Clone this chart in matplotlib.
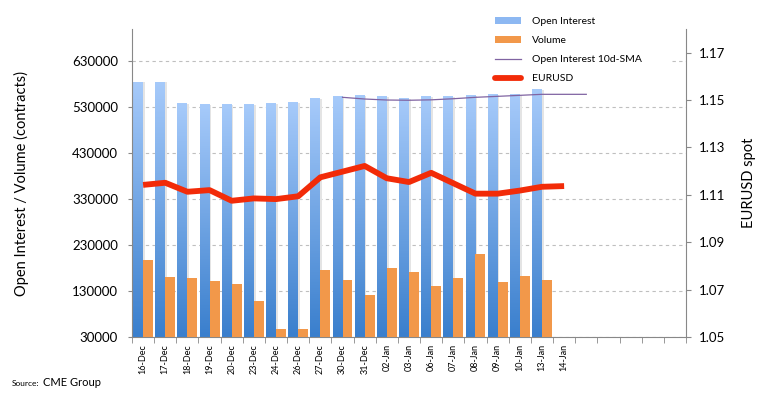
import numpy as np
import matplotlib
matplotlib.use('Agg')
import matplotlib.pyplot as plt
from matplotlib.colors import LinearSegmentedColormap
from matplotlib.patches import Patch, Rectangle
from matplotlib.lines import Line2D

plt.rcParams['font.family'] = ['Lato', 'DejaVu Sans']

# CME data
dates = ['16-Dec', '17-Dec', '18-Dec', '19-Dec', '20-Dec', '23-Dec', '24-Dec', '26-Dec',
         '27-Dec', '30-Dec', '31-Dec', '02-Jan', '03-Jan', '06-Jan', '07-Jan', '08-Jan',
         '09-Jan', '10-Jan', '13-Jan', '14-Jan', '', '', '', '', '']

openInterest = [585300, 585300, 539000, 536800, 536800, 536800, 539000, 541100, 549800,
                554200, 556400, 554200, 549800, 554200, 554200, 556400, 558500, 558500, 569400]

volume = [197500, 160500, 158300, 151800, 145300, 108300, 47400, 47400, 175700, 154000,
          121400, 180100, 171400, 140900, 158300, 210500, 149600, 162700, 154000]

eurusd = [1.1142, 1.1151, 1.1113, 1.1120, 1.1075, 1.1085, 1.1082, 1.1094, 1.1174, 1.1198,
          1.1222, 1.1170, 1.1154, 1.1193, 1.1149, 1.1105, 1.1105, 1.1118, 1.1134, 1.1137]

# 10d SMA starts at 30-Dec
smaStart = 9
oiSma = [551400, 547700, 545500, 545000, 545900, 548300, 551400, 553500, 555700,
         557900, 557900, 557900]

leftTicks = [30000, 130000, 230000, 330000, 430000, 530000, 630000]
rightTicks = [1.05, 1.07, 1.09, 1.11, 1.13, 1.15, 1.17]

gray = '#888888'
orange = '#F2984A'
red = '#F22B08'
purple = '#8064A2'
blueMap = LinearSegmentedColormap.from_list('oi', ['#3A7FCD', '#A6CAFA'])

fig = plt.figure(figsize=(7.67, 3.97), dpi=100)
ax = fig.add_axes([132/767, 1-337/397, 554/767, 308/397])
ax2 = ax.twinx()

x = np.arange(len(dates))
barW = 0.45
yBottom = 30000

# open interest bars with vertical gradient + light shadow
for i, oi in enumerate(openInterest):
	ax.bar(i - barW/2 + 0.08, oi - yBottom - 1500, barW, bottom=yBottom, color='#E4E4E4', zorder=1.5)
	bar = ax.bar(i - barW/2, oi - yBottom, barW, bottom=yBottom, color='#7EAEEA', zorder=2)[0]
	img = ax.imshow(np.linspace(0, 1, 100).reshape(-1, 1), cmap=blueMap, origin='lower',
	                extent=(i - barW, i, yBottom, oi), aspect='auto', zorder=2.1)
	img.set_clip_path(bar)

vx = np.arange(len(volume))
ax.bar(vx + barW/2, np.array(volume) - yBottom, barW, bottom=yBottom, color=orange, zorder=3)

ax.set_xlim(-0.5, len(dates) - 0.5)
ax.set_ylim(30000, 700000)
ax.set_yticks(leftTicks)
ax.set_yticklabels([str(t) for t in leftTicks])
ax.set_xticks(x)
ax.set_xticklabels(dates, rotation=90, fontsize=6.5)
ax.set_xticks(np.arange(len(dates) + 1) - 0.5, minor=True)
ax.tick_params(axis='x', which='major', length=0, pad=5)
ax.tick_params(axis='x', which='minor', length=4, color=gray, direction='out')
ax.tick_params(axis='y', length=3, color=gray, labelsize=9.5, pad=7)

ax.yaxis.grid(True, color='#BFBFBF', linestyle=(0, (3, 3)), linewidth=0.8)
ax.set_axisbelow(True)

for s in ['top', 'right']:
	ax.spines[s].set_visible(False)
ax.spines['left'].set_color(gray)
ax.spines['bottom'].set_color(gray)

ax.set_ylabel('Open Interest / Volume (contracts)', fontsize=10.5, labelpad=31)

# SMA line
smaX = np.arange(smaStart, smaStart + len(oiSma))
ax.plot(smaX, oiSma, color=purple, linewidth=0.9, zorder=4)

# white box behind legend
ax.add_patch(Rectangle((457/767, 1-90/397), 213/767, 85/397, transform=fig.transFigure,
                       facecolor='white', edgecolor='none', zorder=1))

# EURUSD on the right axis
ax2.plot(np.arange(len(eurusd)), eurusd, color=red, linewidth=4.2,
         solid_joinstyle='round', solid_capstyle='butt', zorder=5)
ax2.set_ylim(1.05, 1.18)
ax2.set_yticks(rightTicks)
ax2.set_yticklabels(['%.2f' % t for t in rightTicks])
ax2.tick_params(axis='y', length=3.5, color=gray, labelsize=9.5, pad=6)
for s in ['top', 'left', 'bottom']:
	ax2.spines[s].set_visible(False)
ax2.spines['right'].set_color(gray)
ax2.set_ylabel('EURUSD spot', fontsize=10.5, labelpad=12)

handles = [Patch(facecolor='#8DB8F2', edgecolor='none'),
           Patch(facecolor=orange, edgecolor='none'),
           Line2D([], [], color=purple, linewidth=0.9),
           Line2D([], [], color=red, linewidth=4.2, solid_capstyle='round')]
labels = ['Open Interest', 'Volume', 'Open Interest 10d-SMA', 'EURUSD']
ax2.legend(handles, labels, loc='upper left', bbox_to_anchor=(486/767, 1-8/397),
           bbox_transform=fig.transFigure, frameon=False, fontsize=7.5,
           handlelength=2.5, handleheight=0.6, labelspacing=0.95, handletextpad=1.0)

fig.text(12/767, 1-383/397, 'Source:', fontsize=6, va='center')
fig.text(43/767, 1-382/397, 'CME Group', fontsize=8, va='center')

fig.savefig('out.png', dpi=100)
